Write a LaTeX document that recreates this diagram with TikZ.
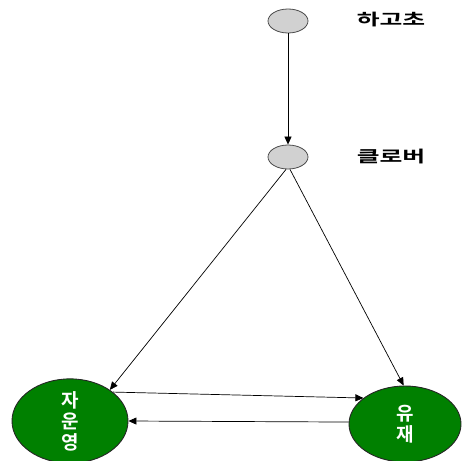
\documentclass[tikz,border=0pt]{standalone}
\usepackage{fontspec}
\usetikzlibrary{shapes.geometric,arrows.meta}
\newfontfamily\kr{Noto Sans CJK KR}[BoldFont={* Bold}]
\begin{document}
\begin{tikzpicture}[x=1pt,y=-1pt,
  small/.style={ellipse,draw=black!70,fill=black!18,line width=0.8pt,minimum width=40pt,minimum height=24pt,inner sep=0pt},
  big/.style={ellipse,draw=black!85,fill=green!50!black,line width=0.9pt,inner sep=0pt,text=white,font=\kr\bfseries\fontsize{19}{21}\selectfont,align=center},
  lbl/.style={font=\kr\bfseries\fontsize{16}{18}\selectfont,text=black,inner sep=0pt},
  edge/.style={-{Triangle[length=8pt,width=7pt]},black,line width=0.7pt}]
\useasboundingbox (0,0) rectangle (462,460);
\node[small] (h) at (288,21) {};
\node[lbl] (hl) at (391,20) {\scalebox{1.55}[1]{하고초}};
\node[small] (c) at (288,157) {};
\node[lbl] (cl) at (391,157) {\scalebox{1.55}[1]{클로버}};
\node[big,minimum width=116pt,minimum height=74pt] (z) at (70,421) {자\\운\\영};
\node[big,minimum width=112pt,minimum height=76pt] (y) at (405,424) {유\\재};
\draw[edge] (h) -- (c);
\draw[edge] (c.south) ++(-2,0) coordinate (c1) -- (z.38);
\draw[edge] (c.south) ++(2,0) coordinate (c2) -- (y.92);
\draw[edge] (z.34) -- (y.148);
\draw[edge] (y.178) -- (z.0);
\end{tikzpicture}
\end{document}
